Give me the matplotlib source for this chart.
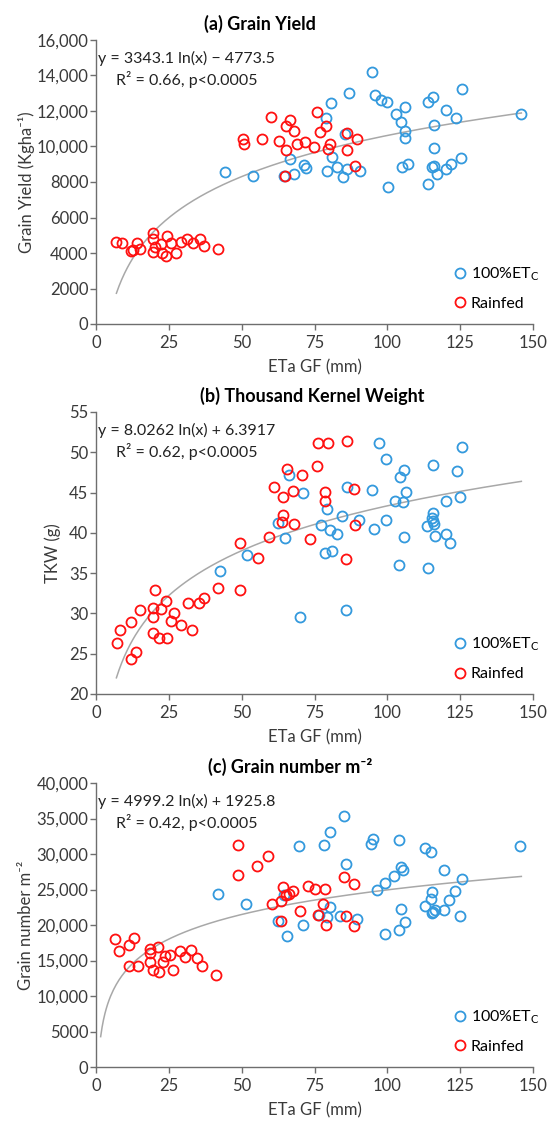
import numpy as np
import matplotlib
matplotlib.use("Agg")
import matplotlib.pyplot as plt

plt.rcParams['font.family'] = ['Lato', 'DejaVu Sans']

# ---- data ----
# (a) grain yield
a_full_x = [94.8, 86.9, 95.9, 97.9, 99.9, 80.6, 105.9, 103.0, 104.6, 106.1, 105.9,
            113.9, 115.7, 120.0, 123.6, 125.8, 116.1, 116.1, 145.9, 79.0, 85.5,
            66.6, 80.9, 71.5, 72.2, 79.4, 82.7, 86.2, 84.9, 90.6, 105.1, 107.0,
            115.5, 116.1, 116.9, 120.0, 121.7, 125.3, 100.2, 113.8, 44.3, 53.9,
            64.6, 68.0]
a_full_y = [14200, 13000, 12900, 12600, 12490, 12450, 12240, 11840, 11400, 10890, 10500,
            12490, 12780, 12030, 11600, 13250, 11230, 9910, 11850, 11620, 10720,
            9300, 9400, 8950, 8800, 8630, 8860, 8730, 8290, 8600, 8860, 9015,
            8820, 8920, 8440, 8730, 9015, 9340, 7720, 7870, 8540, 8310,
            8350, 8440]
a_rain_x = [60.1, 66.5, 65.3, 68.1, 76.0, 76.9, 78.9, 50.3, 50.8, 57.0, 62.7,
            65.3, 68.9, 71.8, 74.7, 79.6, 80.3, 86.0, 86.1, 89.5, 88.8, 64.9,
            6.9, 8.9, 11.9, 12.6, 14.1, 15.1, 19.7, 19.7, 19.7, 20.4, 22.2,
            22.5, 24.0, 24.4, 25.8, 27.3, 29.3, 31.3, 33.4, 35.7, 36.9, 41.9]
a_rain_y = [11690, 11500, 11170, 10890, 11940, 10830, 11150, 10410, 10160, 10410, 10310,
            9820, 10120, 10260, 9970, 9870, 10160, 9800, 10770, 10410, 8880, 8350,
            4640, 4570, 4110, 4170, 4590, 4210, 5110, 4790, 4060, 4320, 4510,
            4020, 3850, 4930, 4550, 4020, 4640, 4770, 4590, 4770, 4420, 4230]

# (b) thousand kernel weight
b_full_x = [66.2, 71.2, 86.0, 79.2, 84.6, 77.1, 80.4, 82.8, 90.2, 62.6, 64.8, 78.5,
            80.9, 52.0, 97.3, 99.4, 105.6, 104.2, 106.5, 94.7, 102.6, 105.3, 99.4,
            95.5, 105.6, 115.7, 123.9, 125.8, 124.9, 120.0, 115.7, 115.5, 115.7,
            116.0, 113.6, 116.5, 120.0, 121.4, 42.5, 70.0, 85.8, 104.0, 114.1]
b_full_y = [47.2, 45.0, 45.7, 42.9, 42.1, 41.0, 40.4, 39.8, 41.6, 41.2, 39.3, 37.5,
            37.7, 37.3, 51.1, 49.2, 47.8, 46.9, 45.1, 45.3, 44.0, 43.8, 41.6,
            40.5, 39.5, 48.4, 47.7, 50.7, 44.4, 44.0, 42.5, 41.9, 41.5,
            41.1, 40.8, 39.6, 39.9, 38.8, 35.3, 29.5, 30.4, 36.0, 35.7]
b_rain_x = [76.3, 79.6, 86.0, 75.7, 65.5, 70.8, 61.1, 64.3, 67.6, 78.6, 78.5, 88.6,
            64.3, 63.7, 68.0, 89.0, 59.5, 49.3, 73.5, 55.5, 85.8, 49.3,
            7.1, 8.3, 12.0, 12.0, 13.6, 15.2, 20.4, 19.6, 19.7, 19.6, 21.6,
            24.2, 22.2, 24.1, 25.6, 26.8, 29.3, 31.5, 32.9, 35.3, 37.0, 41.8]
b_rain_y = [51.1, 51.1, 51.4, 48.3, 47.9, 47.2, 45.7, 44.4, 45.2, 45.1, 43.9, 45.5,
            42.2, 41.3, 41.1, 41.0, 39.5, 38.8, 39.2, 36.9, 36.7, 32.9,
            26.3, 27.9, 28.9, 24.3, 25.2, 30.4, 32.9, 30.7, 29.6, 27.6, 27.0,
            27.0, 30.5, 31.5, 29.1, 30.1, 28.6, 31.3, 28.0, 31.3, 31.9, 33.2]

# (c) grain number
c_full_x = [85.2, 80.4, 69.6, 78.3, 85.7, 95.1, 94.3, 104.1, 112.8, 115.1, 145.5,
            104.7, 105.3, 102.3, 99.3, 96.6, 119.5, 125.7, 123.3, 121.1, 115.5,
            115.1, 112.8, 115.7, 115.4, 116.3, 119.3, 124.8, 104.7, 106.2, 99.3,
            104.1, 42.0, 51.5, 62.3, 65.7, 71.1, 64.5, 80.2, 76.5, 79.3, 83.9, 89.7]
c_full_y = [35330, 33130, 31120, 31260, 28600, 32100, 31400, 31960, 30790, 30330, 31120,
            28130, 27760, 26920, 25980, 24950, 27760, 26450, 24720, 23550, 24630,
            23690, 22620, 21900, 21650, 22050, 22060, 21310, 22290, 20420, 18740,
            19350, 24390, 22900, 20560, 18410, 19950, 24250, 22480, 21360, 21080, 21210, 20890]
c_rain_x = [48.9, 48.7, 55.2, 59.1, 64.1, 63.6, 60.5, 65.3, 66.3, 67.5, 72.9, 75.0,
            78.5, 85.2, 88.6, 70.1, 76.1, 77.8, 79.1, 85.8, 88.5, 63.6,
            6.6, 8.0, 11.4, 13.1, 11.3, 14.3, 18.6, 18.6, 18.6, 19.4, 21.2,
            21.6, 23.0, 23.6, 25.5, 26.4, 28.8, 30.5, 32.7, 34.7, 36.3, 41.3]
c_rain_y = [31310, 27100, 28270, 29770, 25420, 23360, 22900, 24160, 24390, 24770, 25560, 25090,
            25090, 26780, 25790, 21920, 21360, 22940, 20050, 21260, 19910, 20610,
            18020, 16330, 17180, 18210, 14210, 14210, 16570, 16090, 14820, 13650, 16850,
            13410, 14820, 15620, 15770, 13650, 16330, 15530, 16520, 15290, 14170, 12940]

# log fits as printed on the chart: slope, intercept
fits = [(3343.1, -4773.5), (8.0262, 6.3917), (4999.2, 1925.8)]
fit_start = [7, 7, 1.6]
fit_end = 146

titles = ['(a) Grain Yield', '(b) Thousand Kernel Weight', '(c) Grain number m\u207b\u00b2']
ylabels = ['Grain Yield (Kgha\u207b\u00b9)', 'TKW (g)', 'Grain number m\u207b\u00b2']
eqs = ['y = 3343.1 ln(x) \u2212 4773.5\nR\u00b2 = 0.66, p<0.0005',
       'y = 8.0262 ln(x) + 6.3917\nR\u00b2 = 0.62, p<0.0005',
       'y = 4999.2 ln(x) + 1925.8\nR\u00b2 = 0.42, p<0.0005']
yticks = [[0, 2000, 4000, 6000, 8000, 10000, 12000, 14000, 16000],
          [20, 25, 30, 35, 40, 45, 50, 55],
          [0, 5000, 10000, 15000, 20000, 25000, 30000, 35000, 40000]]
yticklabels = [['0', '2000', '4000', '6000', '8000', '10,000', '12,000', '14,000', '16,000'],
               ['20', '25', '30', '35', '40', '45', '50', '55'],
               ['0', '5000', '10,000', '15,000', '20,000', '25,000', '30,000', '35,000', '40,000']]
xticks = [0, 25, 50, 75, 100, 125, 150]

BLUE = '#3399DD'
RED = '#FF1010'
GREY = '#A8A8A8'
AXC = '#6E6E6E'
TXT = '#3A3A3A'

fig = plt.figure(figsize=(5.5, 11.22), dpi=100)
W, H = 550., 1122.
left, right = 96., 533.
tops = [40, 412, 783]
axh = [284., 282., 284.]
title_x = [0.375, 0.494, 0.444]   # chart titles sit over the chart area, not the plot area
ylab_pad = [1, 6, 2]
series = [(a_full_x, a_full_y, a_rain_x, a_rain_y),
          (b_full_x, b_full_y, b_rain_x, b_rain_y),
          (c_full_x, c_full_y, c_rain_x, c_rain_y)]

for i in range(3):
    ax = fig.add_axes([left / W, 1 - (tops[i] + axh[i]) / H, (right - left) / W, axh[i] / H])
    fx, fy, rx, ry = series[i]
    ax.plot(fx, fy, 'o', mfc='none', mec=BLUE, mew=1.3, ms=7.2,
            label='100%ET$_\\mathregular{C}$', zorder=3)
    ax.plot(rx, ry, 'o', mfc='none', mec=RED, mew=1.3, ms=7.2, label='Rainfed', zorder=3)

    xx = np.linspace(fit_start[i], fit_end, 300)
    k, b0 = fits[i]
    ax.plot(xx, k * np.log(xx) + b0, color=GREY, lw=1.1, zorder=2)

    ax.set_xlim(0, 150)
    ax.set_ylim(yticks[i][0], yticks[i][-1])
    ax.set_xticks(xticks)
    ax.set_yticks(yticks[i])
    ax.set_yticklabels(yticklabels[i])

    for s in ['top', 'right']:
        ax.spines[s].set_visible(False)
    for s in ['left', 'bottom']:
        ax.spines[s].set_color(AXC)
        ax.spines[s].set_linewidth(1.0)
    ax.tick_params(direction='out', length=4, width=1.0, color=AXC,
                   labelsize=12, labelcolor=TXT)
    ax.tick_params(axis='y', pad=1.5)
    ax.tick_params(axis='x', pad=4)

    ax.set_title(titles[i], fontsize=13, fontweight='bold', pad=7, x=title_x[i])
    ax.set_xlabel('ETa GF (mm)', fontsize=12, color=TXT, labelpad=6)
    ax.set_ylabel(ylabels[i], fontsize=12, color=TXT, labelpad=ylab_pad[i])

    ax.text(0.208, 0.962, eqs[i], transform=ax.transAxes, ha='center', va='top',
            fontsize=11.5, color='#222222', linespacing=1.4)

    ax.legend(loc='center left', frameon=False, fontsize=11.5, handletextpad=0.1,
              handlelength=1.2, labelspacing=0.85, borderpad=0, borderaxespad=0,
              bbox_to_anchor=(0.81, 0.126))

fig.savefig('out.png', dpi=100)
